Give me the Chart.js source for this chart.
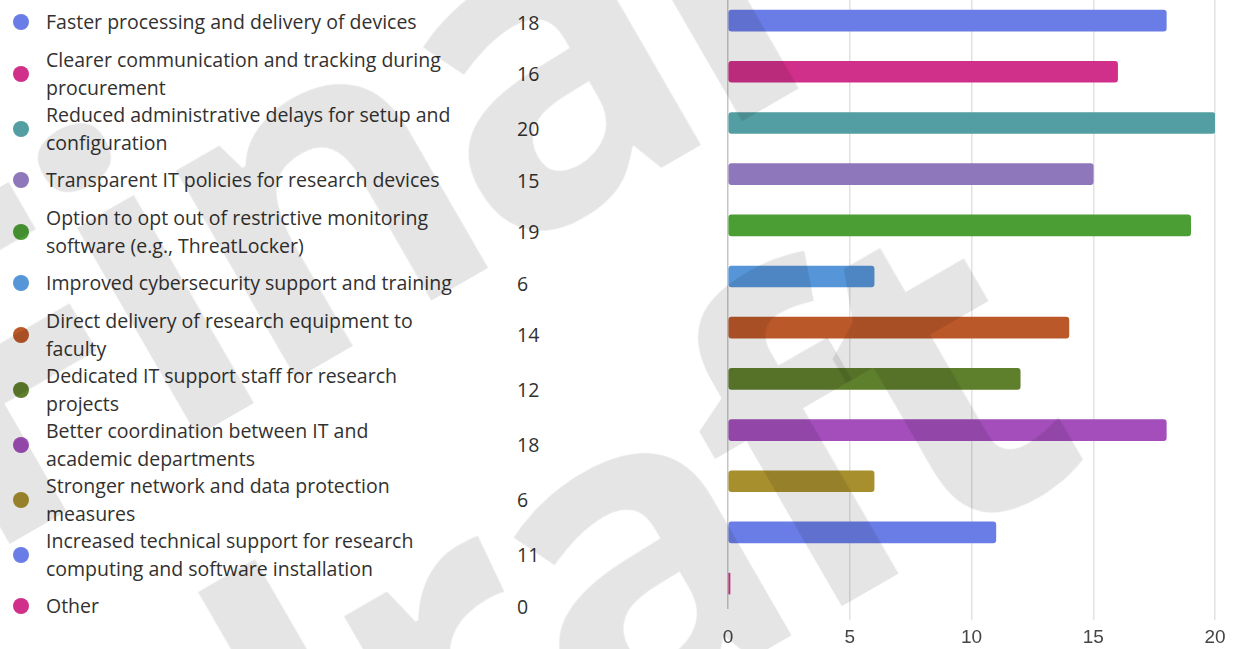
<!DOCTYPE html>
<html>
<head>
<meta charset="utf-8">
<script src="https://cdn.jsdelivr.net/npm/chart.js@4/dist/chart.umd.min.js"></script>
<style>
  html, body { margin: 0; padding: 0; background: #fff; }
  body { width: 1238px; height: 649px; position: relative; overflow: hidden; font-family: "Open Sans", "Noto Sans", sans-serif; color: #323130; }
  #legend { position: absolute; left: 0; top: -2px; width: 560px; margin: 0; padding: 0; list-style: none; }
  #legend li { position: relative; display: flex; align-items: center; height: 48px; }
  #legend li.two { height: 55px; }
  #legend .dot { position: absolute; left: 13px; width: 16px; height: 16px; border-radius: 50%; }
  #legend .txt { position: absolute; left: 46px; font-size: 19.5px; line-height: 27.5px; white-space: nowrap; }
  #legend .num { position: absolute; left: 517px; font-size: 19.5px; }
  #chartBox { position: absolute; left: 700px; top: -6px; width: 538px; height: 661px; }
  #mark { position: absolute; left: 0; top: 0; pointer-events: none; z-index: 5;
          font-family: "Open Sans", sans-serif; font-weight: 700; font-size: 440px; line-height: 470px;
          letter-spacing: -20px; color: rgba(0,0,0,0.1); white-space: nowrap; transform-origin: 0 0; }
</style>
</head>
<body>
<ul id="legend"></ul>
<div id="chartBox"><canvas id="bars"></canvas></div>
<div id="mark">Final<br>draft</div>
<script>
// answers, each split into the lines shown in the list
const options = [
  ["Faster processing and delivery of devices"],
  ["Clearer communication and tracking during", "procurement"],
  ["Reduced administrative delays for setup and", "configuration"],
  ["Transparent IT policies for research devices"],
  ["Option to opt out of restrictive monitoring", "software (e.g., ThreatLocker)"],
  ["Improved cybersecurity support and training"],
  ["Direct delivery of research equipment to", "faculty"],
  ["Dedicated IT support staff for research", "projects"],
  ["Better coordination between IT and", "academic departments"],
  ["Stronger network and data protection", "measures"],
  ["Increased technical support for research", "computing and software installation"],
  ["Other"]
]
const counts = [18, 16, 20, 15, 19, 6, 14, 12, 18, 6, 11, 0]
const colors = ['#6a7de6', '#d02f8a', '#529ea2', '#8e77bb', '#4a9e33', '#5595d8',
                '#bb5829', '#5e7f2c', '#a34ebb', '#a88f2e', '#6a7de6', '#d02f8a']
const xTicks = [0, 5, 10, 15, 20]

// left hand list
let legend = document.getElementById('legend')
options.forEach((lines, i) => {
  let li = document.createElement('li')
  if (lines.length > 1) li.className = 'two'
  li.innerHTML = `<span class="dot" style="background:${colors[i]}"></span>` +
    `<span class="txt">${lines.join('<br>')}</span>` +
    `<span class="num">${counts[i]}</span>`
  legend.appendChild(li)
})

// watermark (first line sits half a line lower when line-height grows, so pull it back)
let mark = document.getElementById('mark')
mark.style.transform = 'translate(-227px, 213px) rotate(-30deg)'

var ctx = document.getElementById('bars').getContext('2d');
new Chart(ctx, {
  type: 'bar',
  data: {
    labels: options.map(l => l.join(' ')),
    datasets: [{
      data: counts,
      backgroundColor: colors,
      barThickness: 21,
      borderRadius: 3,
      minBarLength: 2,
      borderSkipped: false
    }]
  },
  options: {
    indexAxis: 'y',
    responsive: true,
    maintainAspectRatio: false,
    animation: false,
    layout: { padding: { left: 28, right: 23, top: 1, bottom: 0 } },
    plugins: { legend: { display: false }, tooltip: { enabled: false } },
    scales: {
      y: { display: false },
      x: {
        min: xTicks[0],
        max: xTicks[xTicks.length - 1],
        afterBuildTicks: axis => { axis.ticks = xTicks.map(v => ({ value: v })) },
        border: { display: false },
        grid: {
          color: c => c.tick && c.tick.value === 0 ? '#c6c6c6' : '#e2e2e2',
          tickColor: c => c.tick && c.tick.value === 0 ? 'rgba(0,0,0,0)' : '#e2e2e2',
          lineWidth: 1.5,
          tickLength: 11
        },
        ticks: {
          padding: 6,
          color: '#454545',
          font: { family: 'Liberation Sans, Arial, sans-serif', size: 19 }
        }
      }
    }
  }
});
</script>
</body>
</html>
